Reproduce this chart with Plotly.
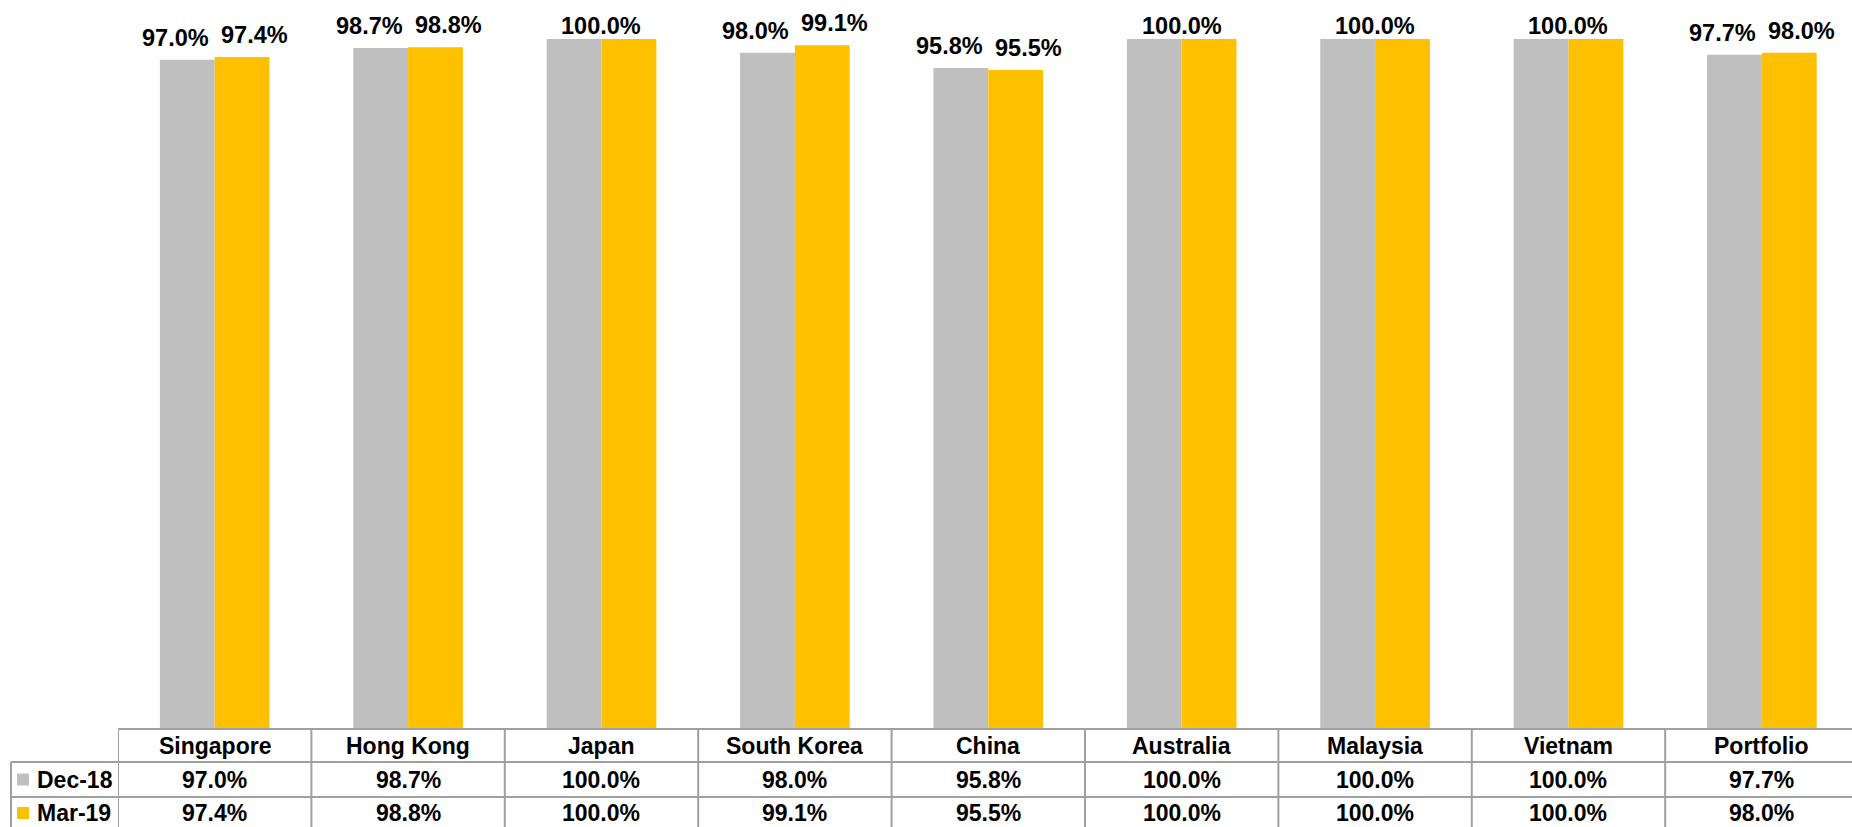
import plotly.graph_objects as go

categories = ["Singapore", "Hong Kong", "Japan", "South Korea", "China",
              "Australia", "Malaysia", "Vietnam", "Portfolio"]
series_names = ["Dec-18", "Mar-19"]
dec18 = [97.0, 98.7, 100.0, 98.0, 95.8, 100.0, 100.0, 100.0, 97.7]
mar19 = [97.4, 98.8, 100.0, 99.1, 95.5, 100.0, 100.0, 100.0, 98.0]
series_values = [dec18, mar19]
colors = ["#BFBFBF", "#FFC000"]

W, H = 1852, 827
FONT = "Liberation Sans, Arial, sans-serif"
LINE = "#A0A0A0"

# pixel layout (canvas coords, y from top)
plot_left = 118
axis_y = 729
row1_y = 762
row2_y = 797
legend_left = 11

def py(p):  # canvas px (from top) -> paper fraction
    return 1 - p / H

def px(p):
    return p / W

fig = go.Figure()
for name, vals, col in zip(series_names, series_values, colors):
    fig.add_trace(go.Bar(x=categories, y=vals, name=name,
                         marker=dict(color=col, line=dict(width=0)),
                         hoverinfo="x+y"))

annotations = []
# data labels above bars
for i, cat in enumerate(categories):
    a, b = dec18[i], mar19[i]
    if a == b:
        annotations.append(dict(x=cat, y=a, xref="x", yref="y", text=f"<b>{a:.1f}%</b>",
                                showarrow=False, yanchor="bottom", yshift=-2,
                                font=dict(family=FONT, size=23.5, color="#000")))
    else:
        for v, shift in ((a, -39), (b, 40)):
            annotations.append(dict(x=cat, y=v, xref="x", yref="y", text=f"<b>{v:.1f}%</b>",
                                    showarrow=False, yanchor="bottom", xshift=shift,
                                    yshift=7,
                                    font=dict(family=FONT, size=23.5, color="#000")))

# table text
hdr_mid = py((axis_y + row1_y) / 2)
row_mids = [py((row1_y + row2_y) / 2), py((row2_y + H) / 2 + 1)]
for cat in categories:
    annotations.append(dict(x=cat, y=hdr_mid, xref="x", yref="paper", text=f"<b>{cat}</b>",
                            showarrow=False, yanchor="middle",
                            font=dict(family=FONT, size=23, color="#000")))
for r, vals in enumerate(series_values):
    for cat, v in zip(categories, vals):
        annotations.append(dict(x=cat, y=row_mids[r], xref="x", yref="paper",
                                text=f"<b>{v:.1f}%</b>", showarrow=False, yanchor="middle",
                                font=dict(family=FONT, size=23, color="#000")))
    annotations.append(dict(x=px(35), y=row_mids[r], xref="paper", yref="paper",
                            text=f"<b>{series_names[r]}</b>", showarrow=False,
                            xanchor="left", yanchor="middle",
                            font=dict(family=FONT, size=23, color="#000")))

shapes = []
# horizontal lines
shapes.append(dict(type="line", xref="paper", yref="paper", x0=px(plot_left), x1=1,
                   y0=py(axis_y), y1=py(axis_y), line=dict(color=LINE, width=2)))
for yy in (row1_y, row2_y):
    shapes.append(dict(type="line", xref="paper", yref="paper", x0=px(legend_left), x1=1,
                       y0=py(yy), y1=py(yy), line=dict(color=LINE, width=2)))
# vertical lines
shapes.append(dict(type="line", xref="paper", yref="paper", x0=px(legend_left),
                   x1=px(legend_left), y0=0, y1=py(row1_y), line=dict(color=LINE, width=2)))
for i in range(len(categories)):
    shapes.append(dict(type="line", xref="x", yref="paper", x0=i - 0.5, x1=i - 0.5,
                       y0=0, y1=py(axis_y), line=dict(color=LINE, width=2)))
# legend keys
for r, col in enumerate(colors):
    yc = (row1_y + row2_y) / 2 if r == 0 else (row2_y + H) / 2 + 1
    shapes.append(dict(type="rect", xref="paper", yref="paper", x0=px(17), x1=px(29),
                       y0=py(yc + 6), y1=py(yc - 6), fillcolor=col, line=dict(width=0)))

fig.update_layout(
    width=W, height=H, autosize=False,
    margin=dict(l=0, r=0, t=0, b=0),
    paper_bgcolor="white", plot_bgcolor="white",
    barmode="group", bargap=0.433, bargroupgap=0,
    showlegend=False,
    xaxis=dict(domain=[px(plot_left), 1], range=[-0.5, len(categories) - 0.534],
               showticklabels=False, showgrid=False, zeroline=False, showline=False,
               ticks=""),
    yaxis=dict(domain=[py(axis_y), 1], range=[0, 105.65], visible=False,
               showgrid=False, zeroline=False),
    annotations=annotations,
    shapes=shapes,
)

fig.write_html("out.html", config={"displayModeBar": False},
               post_script="document.body.style.margin='0';document.body.style.overflow='hidden';")
